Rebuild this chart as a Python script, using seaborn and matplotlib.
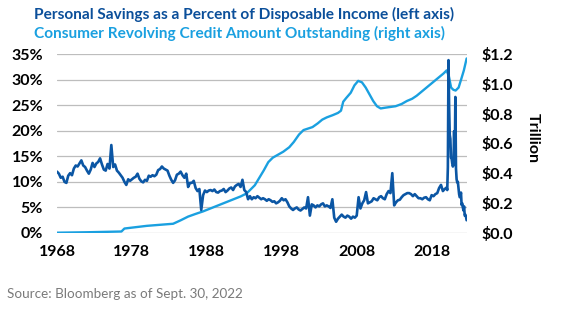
import numpy as np
import pandas as pd
import matplotlib
matplotlib.use("Agg")
import matplotlib.pyplot as plt
import seaborn as sns

# ---------------- data ----------------
# Personal savings rate (% of disposable income), quarterly 1968-2019 (Q1..Q4)
savings_start_year = 1968
savings_quarterly = [
    [12.0, 11.6, 10.8, 11.0],  # 1968
    [10.0, 9.8, 11.2, 11.7],   # 1969
    [11.3, 12.6, 13.2, 13.0],  # 1970
    [13.6, 14.2, 13.2, 12.9],  # 1971
    [12.2, 11.6, 12.4, 13.7],  # 1972
    [12.9, 13.6, 13.9, 14.6],  # 1973
    [13.4, 12.4, 12.2, 13.5],  # 1974
    [12.6, 17.2, 12.9, 13.4],  # 1975
    [12.2, 11.8, 11.3, 10.8],  # 1976
    [10.0, 9.4, 10.5, 10.2],   # 1977
    [10.5, 10.8, 11.0, 11.6],  # 1978
    [10.6, 10.1, 9.9, 10.4],   # 1979
    [10.2, 11.2, 11.0, 11.3],  # 1980
    [11.1, 11.4, 12.3, 12.5],  # 1981
    [13.0, 12.6, 12.4, 12.2],  # 1982
    [11.2, 10.4, 9.8, 10.3],   # 1983
    [11.4, 11.6, 12.0, 11.3],  # 1984
    [10.8, 11.6, 9.0, 9.8],    # 1985
    [9.8, 10.2, 8.8, 8.2],     # 1986
    [8.6, 4.5, 7.4, 8.3],      # 1987
    [8.0, 8.3, 8.4, 8.2],      # 1988
    [8.5, 8.0, 7.9, 8.2],      # 1989
    [8.3, 8.6, 8.0, 8.3],      # 1990
    [8.7, 8.9, 8.4, 9.1],      # 1991
    [9.4, 9.6, 9.0, 10.4],     # 1992
    [8.4, 8.0, 6.6, 7.2],      # 1993
    [6.6, 7.0, 6.8, 7.2],      # 1994
    [6.9, 6.6, 6.8, 6.6],      # 1995
    [6.3, 6.6, 6.4, 6.1],      # 1996
    [6.2, 5.8, 6.0, 6.3],      # 1997
    [6.8, 6.4, 6.6, 6.0],      # 1998
    [5.2, 4.8, 4.5, 4.8],      # 1999
    [5.0, 4.6, 4.4, 4.7],      # 2000
    [5.0, 4.8, 7.0, 3.4],      # 2001
    [5.6, 5.4, 5.0, 5.4],      # 2002
    [5.2, 5.6, 5.8, 5.2],      # 2003
    [5.4, 5.2, 4.9, 6.6],      # 2004
    [3.0, 2.2, 2.8, 3.2],      # 2005
    [3.6, 3.2, 3.0, 3.4],      # 2006
    [3.2, 2.8, 3.2, 3.0],      # 2007
    [3.4, 7.0, 4.8, 5.8],      # 2008
    [6.4, 8.0, 5.8, 6.0],      # 2009
    [6.2, 6.8, 6.6, 6.4],      # 2010
    [7.0, 7.2, 6.8, 6.6],      # 2011
    [7.6, 8.2, 7.8, 11.7],     # 2012
    [5.4, 6.0, 6.4, 6.5],      # 2013
    [7.0, 7.4, 7.6, 7.8],      # 2014
    [7.8, 7.6, 7.2, 7.6],      # 2015
    [7.2, 6.8, 6.8, 6.6],      # 2016
    [6.9, 7.0, 6.6, 6.4],      # 2017
    [7.4, 7.2, 7.6, 7.8],      # 2018
    [8.8, 9.4, 8.2, 8.6],      # 2019
]
# Monthly savings rate, Jan 2020 - Sep 2022
savings_monthly_start = 2020
savings_monthly = [
    8.9, 8.4, 12.9, 33.8, 24.8, 19.2, 18.4, 14.7, 14.6, 13.6, 13.0, 13.4,   # 2020
    19.9, 13.5, 26.6, 12.6, 10.5, 9.9, 10.0, 8.8, 7.6, 7.0, 7.1, 7.9,      # 2021
    5.5, 5.8, 5.0, 4.4, 5.2, 3.4, 3.6, 3.2, 2.5,                           # 2022
]

# Consumer revolving credit outstanding ($ trillion)
credit_years = [1968.0, 1972.0, 1976.6, 1977.0, 1978.0, 1980.0, 1982.0, 1983.5,
                1984.5, 1985.5, 1986.5, 1987.5, 1988.5, 1989.5, 1990.5, 1991.5,
                1992.5, 1993.3, 1993.8, 1994.4, 1995.0, 1995.6, 1996.2, 1996.8,
                1997.5, 1998.2, 1999.0, 1999.6, 2000.3, 2000.9, 2001.5, 2002.1,
                2002.8, 2003.4, 2004.0, 2004.8, 2005.5, 2005.9, 2006.2, 2006.6,
                2007.2, 2007.7, 2008.2, 2008.7, 2009.2, 2009.7, 2010.2, 2010.7,
                2011.2, 2011.8, 2012.5, 2013.2, 2014.0, 2014.7, 2015.4, 2016.0,
                2016.6, 2017.2, 2017.8, 2018.4, 2019.0, 2019.6, 2020.0, 2020.3,
                2020.6, 2020.9, 2021.2, 2021.6, 2022.0, 2022.3, 2022.67]
credit_values = [0.002, 0.005, 0.010, 0.030, 0.036, 0.048, 0.056, 0.062,
                 0.085, 0.110, 0.128, 0.145, 0.165, 0.185, 0.205, 0.225,
                 0.245, 0.265, 0.290, 0.320, 0.370, 0.420, 0.475, 0.505,
                 0.525, 0.545, 0.575, 0.610, 0.660, 0.690, 0.700, 0.710,
                 0.735, 0.760, 0.775, 0.790, 0.805, 0.820, 0.880, 0.905,
                 0.940, 0.990, 1.020, 1.010, 0.975, 0.930, 0.885, 0.850,
                 0.835, 0.840, 0.845, 0.850, 0.865, 0.885, 0.900, 0.920,
                 0.945, 0.970, 0.995, 1.020, 1.045, 1.070, 1.090, 1.050,
                 0.975, 0.960, 0.955, 0.975, 1.040, 1.090, 1.170]

title1 = "Personal Savings as a Percent of Disposable Income (left axis)"
title2 = "Consumer Revolving Credit Amount Outstanding (right axis)"
source = "Source: Bloomberg as of Sept. 30, 2022"
x_ticks = [1968, 1978, 1988, 1998, 2008, 2018]
left_ticks = [0, 5, 10, 15, 20, 25, 30, 35]
right_ticks = [0.0, 0.2, 0.4, 0.6, 0.8, 1.0, 1.2]

# ---------------- build tables ----------------
sx, sy = [], []
for i, row in enumerate(savings_quarterly):
    for q, v in enumerate(row):
        sx.append(savings_start_year + i + q * 0.25)
        sy.append(v)
for m, v in enumerate(savings_monthly):
    sx.append(savings_monthly_start + m / 12.0)
    sy.append(v)
sav_df = pd.DataFrame({"year": sx, "rate": sy})
cred_df = pd.DataFrame({"year": credit_years, "credit": credit_values})

# ---------------- style ----------------
sns.set_style("white")
plt.rcParams["font.family"] = ["Lato", "DejaVu Sans"]

DARK = "#0B56A4"
TITLE_DARK = "#0B4F9A"
LIGHT = "#1AA0E0"
GRID = "#bdbdbd"

fig = plt.figure(figsize=(5.71, 3.24), dpi=100)
ax = fig.add_axes([57 / 571, 1 - 233 / 324, 410 / 571, 179 / 324])
ax2 = ax.twinx()

sns.lineplot(data=cred_df, x="year", y="credit", ax=ax2, color=LIGHT,
             linewidth=1.7, zorder=2)
sns.lineplot(data=sav_df, x="year", y="rate", ax=ax, color=DARK,
             linewidth=1.9, zorder=3)

# draw left axis (savings) on top of right
ax.set_zorder(ax2.get_zorder() + 1)
ax.patch.set_visible(False)

ax.set_xlim(1968, 2022.72)
ax.set_ylim(0, 35)
ax2.set_ylim(0, 1.2)

ax.set_xticks(x_ticks)
ax.set_xticklabels([str(t) for t in x_ticks])
ax.set_yticks(left_ticks)
ax.set_yticklabels([f"{t}%" for t in left_ticks])
ax2.set_yticks(right_ticks)
ax2.set_yticklabels([f"${t:.1f}" for t in right_ticks])

for a in (ax, ax2):
    for s in a.spines.values():
        s.set_visible(False)
    a.set_xlabel("")
    a.set_ylabel("")

ax.grid(False)
ax2.grid(False)
for t in left_ticks:
    ax2.axhline(t * 1.2 / 35, color=GRID, linewidth=0.9, zorder=0)

ax.tick_params(axis="y", length=0, pad=10, labelsize=11.5, labelcolor="black")
ax.tick_params(axis="x", length=0, pad=9, labelsize=11.5, labelcolor="black")
ax2.tick_params(axis="y", length=0, pad=10.5, labelsize=11.5, labelcolor="black")
for lab in ax.get_xticklabels() + ax.get_yticklabels() + ax2.get_yticklabels():
    lab.set_fontweight("bold")

fig.text(533 / 571, 1 - 138 / 324, "Trillion", rotation=-90, ha="center",
         va="center", fontsize=11.5, fontweight="bold", color="black")

fig.text(34 / 571, 1 - 14 / 324, title1, ha="left", va="center",
         fontsize=11.1, fontweight="bold", color=TITLE_DARK)
fig.text(34 / 571, 1 - 33 / 324, title2, ha="left", va="center",
         fontsize=11.1, fontweight="bold", color=LIGHT)
fig.text(7 / 571, 1 - 294 / 324, source, ha="left", va="center",
         fontsize=9.7, color="#7a7a7a")

fig.savefig("out.png", dpi=100)
